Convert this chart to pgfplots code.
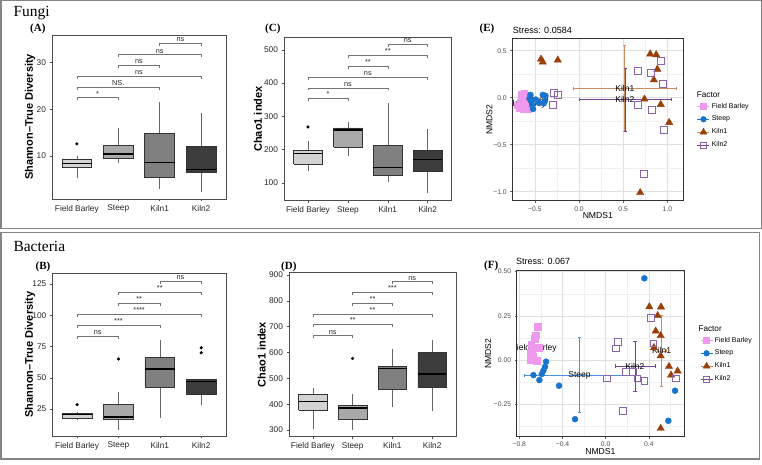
\documentclass[border=0pt]{standalone}
\usepackage{pgfplots}
\pgfplotsset{compat=1.18}
\usepackage{fontspec}
\setmainfont{Liberation Serif}
\setsansfont{Liberation Sans}
\definecolor{fbfill}{HTML}{D3D3D3}
\definecolor{stfill}{HTML}{A9A9A9}
\definecolor{k1fill}{HTML}{808080}
\definecolor{k2fill}{HTML}{3C3C3C}
\definecolor{cFB}{HTML}{EE99EE}
\definecolor{cST}{HTML}{1874CD}
\definecolor{cK1}{HTML}{9A3F0A}
\definecolor{cK2}{HTML}{8C64AA}
\definecolor{eK1}{HTML}{CF8C5E}
\definecolor{eK2}{HTML}{7A4192}
\definecolor{eST}{HTML}{4A94DE}
\definecolor{frm}{HTML}{858585}
\newcommand\tkf{\sffamily\fontsize{8.3}{9}\selectfont}
\newcommand\sig{\sffamily\fontsize{7.3}{8}\selectfont}
\pgfplotsset{
 bxax/.style={scale only axis, xmin=0.4, xmax=4.6, xtick={1,2,3,4},
   xticklabels={Field Barley,Steep,Kiln1,Kiln2},
   tick align=outside, xtick pos=bottom, ytick pos=left,
   major tick length=2.5pt, tick style={black!70,line width=0.5pt},
   axis line style={black!70,line width=0.9pt},
   ticklabel style={font=\tkf, text=black!85},
   /pgf/number format/assume math mode=true,
   ylabel style={font=\sffamily\bfseries\fontsize{11}{12}\selectfont, anchor=center},
   clip=false},
 nm/.style={scale only axis,
   grid=both, major grid style={black!12, line width=0.5pt}, minor grid style={black!6, line width=0.35pt},
   tick align=outside, xtick pos=bottom, ytick pos=left, major tick length=2pt, minor tick length=0pt,
   tick style={black!60, line width=0.5pt},
   axis line style={black!80, line width=1pt},
   ticklabel style={font=\sffamily\fontsize{6.8}{7}\selectfont, text=black!70},
   label style={font=\sffamily\fontsize{8.6}{9}\selectfont},
   xlabel=NMDS1, ylabel=NMDS2,
   xlabel style={at={(axis description cs:0.5,-0.09)}, anchor=center},
   legend style={draw=none, fill=none, anchor=north west, font=\sffamily\fontsize{7}{8}\selectfont, row sep=2.4pt, inner sep=0pt, cells={anchor=west}},
   legend image code/.code={\draw[#1, mark repeat=2, mark phase=2] plot coordinates {(0pt,0pt) (6pt,0pt) (12pt,0pt)};},
 },
}
% box: pos, left, right, lower whisker, q1, median, q3, upper whisker, fill
\newcommand\bx[9]{%
\addplot[black!60, line width=0.6pt] coordinates {(#1,#4) (#1,#5)};
\addplot[black!60, line width=0.6pt] coordinates {(#1,#7) (#1,#8)};
\addplot[draw=black!80, fill=#9, line width=0.6pt] coordinates {(#2,#5) (#3,#5) (#3,#7) (#2,#7) (#2,#5)};
\addplot[black, line width=1.3pt] coordinates {(#2,#6) (#3,#6)};
}
% error bars: color, cx, cy, xleft, xright, ybottom, ytop
\newcommand\eb[7]{%
\addplot[forget plot, #1, line width=0.7pt] coordinates {(#4,#3) (#5,#3)};
\addplot[forget plot, #1, line width=0.7pt] coordinates {(#2,#6) (#2,#7)};
\draw[#1, line width=0.7pt] (axis cs:#4,#3) ++(0pt,-1.6pt) -- ++(0pt,3.2pt);
\draw[#1, line width=0.7pt] (axis cs:#5,#3) ++(0pt,-1.6pt) -- ++(0pt,3.2pt);
\draw[#1, line width=0.7pt] (axis cs:#2,#6) ++(-1.6pt,0pt) -- ++(3.2pt,0pt);
\draw[#1, line width=0.7pt] (axis cs:#2,#7) ++(-1.6pt,0pt) -- ++(3.2pt,0pt);
}
\newcommand\br[4]{\draw[black!55, line width=0.5pt] (axis cs:#1,#3) ++(0pt,-2.7pt) -- ++(0pt,2.7pt) -- node[font=\sig, text=black!85, anchor=base, yshift=1.6pt, inner sep=0pt]{#4} (axis cs:#2,#3) -- ++(0pt,-2.7pt);}
\pgfplotsset{outl/.style={only marks, mark=*, mark size=1.4pt, mark options={draw=black, fill=black}}}
\newcommand\cl{\sffamily\fontsize{8.5}{9}\selectfont}
\begin{document}
\begin{tikzpicture}
\draw[frm, line width=1.5pt] (0.75pt,464.25pt) rectangle (761.25pt,236.5pt);
\draw[frm, line width=1.5pt] (0.75pt,232.5pt) rectangle (759.5pt,6pt);
\node[anchor=base west, font=\fontsize{15.5}{16}\selectfont, inner sep=0pt] at (13.3pt,448.3pt) {Fungi};
\node[anchor=base west, font=\fontsize{15.5}{16}\selectfont, inner sep=0pt] at (13.3pt,213.3pt) {Bacteria};
\node[anchor=base west, font=\bfseries\fontsize{11}{12}\selectfont, inner sep=0pt] at (30pt,433.3pt) {(A)};
\node[anchor=base west, font=\bfseries\fontsize{11}{12}\selectfont, inner sep=0pt] at (265pt,433.3pt) {(C)};
\node[anchor=base west, font=\bfseries\fontsize{11}{12}\selectfont, inner sep=0pt] at (479.5pt,433.3pt) {(E)};
\node[anchor=base west, font=\bfseries\fontsize{11}{12}\selectfont, inner sep=0pt] at (35.5pt,195.7pt) {(B)};
\node[anchor=base west, font=\bfseries\fontsize{11}{12}\selectfont, inner sep=0pt] at (281pt,195.7pt) {(D)};
\node[anchor=base west, font=\bfseries\fontsize{11}{12}\selectfont, inner sep=0pt] at (484pt,196.7pt) {(F)};
\node[anchor=base west, font=\sffamily\fontsize{9}{10}\selectfont, inner sep=0pt] at (512.7pt,431.7pt) {Stress: 0.0584};
\node[anchor=base west, font=\sffamily\fontsize{9}{10}\selectfont, inner sep=0pt] at (516pt,200pt) {Stress: 0.067};
\node[anchor=west, font=\sffamily\fontsize{8.2}{9}\selectfont, inner sep=0pt] at (696.7pt,370.7pt) {Factor};
\node[anchor=west, font=\sffamily\fontsize{8.2}{9}\selectfont, inner sep=0pt] at (698.3pt,136.7pt) {Factor};

% ---------- (A)
\begin{axis}[bxax, at={(52pt,266pt)}, anchor=south west, width=174pt, height=164pt,
  ymin=0.8, ymax=35.9, ytick={10,20,30}, ylabel={Shannon\textendash True Diversity},
  ylabel style={at={(axis description cs:-0.126,0.5)}}]
\bx{1}{0.64}{1.36}{5.4}{7.6}{8.4}{9.4}{10.1}{fbfill}
\bx{2}{1.64}{2.36}{8.4}{9.5}{10.4}{12.3}{16.0}{stfill}
\bx{3}{2.64}{3.36}{3.0}{5.4}{8.6}{14.8}{21.6}{k1fill}
\bx{4}{3.64}{4.36}{2.3}{6.6}{7.15}{12.1}{19.25}{k2fill}
\addplot[outl] coordinates {(1,12.6)};
\br{1}{2}{22.5}{*}
\br{1}{3}{24.8}{NS.}
\br{1}{4}{27.1}{ns}
\br{2}{3}{29.4}{ns}
\br{2}{4}{31.7}{ns}
\br{3}{4}{34.2}{ns}
\end{axis}

% ---------- (C)
\begin{axis}[bxax, at={(284pt,264.3pt)}, anchor=south west, width=167.7pt, height=163.4pt,
  ymin=46, ymax=538, ytick={100,200,300,400,500}, ylabel={Chao1 index},
  ylabel style={at={(axis description cs:-0.155,0.5)}}]
\bx{1}{0.64}{1.36}{135}{157}{188}{197}{225}{fbfill}
\bx{2}{1.64}{2.36}{181}{207}{259}{265}{282}{stfill}
\bx{3}{2.64}{3.36}{103}{122}{145}{212}{339}{k1fill}
\bx{4}{3.64}{4.36}{68}{134}{170}{197}{263}{k2fill}
\addplot[outl] coordinates {(1,268)};
\br{1}{2}{354}{*}
\br{1}{3}{386}{ns}
\br{1}{4}{418}{ns}
\br{2}{3}{450}{**}
\br{2}{4}{483}{**}
\br{3}{4}{517}{ns}
\end{axis}

% ---------- (B)
\begin{axis}[bxax, at={(52.3pt,29pt)}, anchor=south west, width=173.7pt, height=162.7pt,
  ymin=3.4, ymax=133.6, ytick={25,50,75,100,125}, ylabel={Shannon\textendash True Diversity},
  ylabel style={at={(axis description cs:-0.128,0.5)}}]
\bx{1}{0.64}{1.36}{16.5}{17.5}{20.5}{21.5}{23}{fbfill}
\bx{2}{1.64}{2.36}{8.2}{16.5}{18.5}{28.5}{38.5}{stfill}
\bx{3}{2.64}{3.36}{18}{42.5}{57}{66.5}{80}{k1fill}
\bx{4}{3.64}{4.36}{28}{37}{47}{48.5}{48.5}{k2fill}
\addplot[outl] coordinates {(1,28.5) (2,65) (4,70) (4,74)};
\br{1}{2}{83.4}{ns}
\br{1}{3}{92.2}{***}
\br{1}{4}{100.7}{****}
\br{2}{3}{109.8}{**}
\br{2}{4}{118.6}{**}
\br{3}{4}{127.1}{ns}
\end{axis}

% ---------- (D)
\begin{axis}[bxax, at={(289pt,28.3pt)}, anchor=south west, width=167pt, height=164pt,
  ymin=274, ymax=909, ytick={300,400,500,600,700,800,900}, ylabel={Chao1 index},
  ylabel style={at={(axis description cs:-0.163,0.5)}}]
\bx{1}{0.64}{1.36}{303}{377}{410}{438}{461}{fbfill}
\bx{2}{1.64}{2.36}{300}{343}{385}{394}{438}{stfill}
\bx{3}{2.64}{3.36}{390}{459}{539}{545}{612}{k1fill}
\bx{4}{3.64}{4.36}{373}{465}{517}{600}{648}{k2fill}
\addplot[outl] coordinates {(2,577)};
\br{1}{2}{665}{ns}
\br{1}{3}{709}{**}
\br{1}{4}{748}{**}
\br{2}{3}{792}{**}
\br{2}{4}{833}{***}
\br{3}{4}{874}{ns}
\end{axis}

% ---------- (E)
\begin{axis}[nm, at={(512.3pt,264pt)}, anchor=south west, width=171pt, height=162.7pt,
  xmin=-0.755, xmax=1.18, ymin=-1.099, ymax=0.632,
  xtick={-0.5,0,0.5,1}, xticklabels={\textminus0.5,0.0,0.5,1.0},
  ytick={-1,-0.5,0,0.5}, yticklabels={\textminus1.0,\textminus0.5,0.0,0.5},
  minor xtick={-0.25,0.25,0.75}, minor ytick={-0.75,-0.25,0.25},
  ylabel style={at={(axis description cs:-0.134,0.5)}, anchor=center},
  legend style={at={(1.08,0.615)}}]
\addlegendimage{cFB, line width=0.6pt, mark=square*, mark size=3pt, mark options={draw=cFB, fill=cFB}}
\addlegendentry{Field Barley}
\addlegendimage{cST, line width=0.6pt, mark=*, mark size=2.8pt, mark options={draw=cST, fill=cST}}
\addlegendentry{Steep}
\addlegendimage{eK1, line width=0.6pt, mark=triangle*, mark size=3.8pt, mark options={draw=cK1, fill=cK1}}
\addlegendentry{Kiln1}
\addlegendimage{eK2, line width=0.6pt, mark=square, mark size=3.2pt, mark options={draw=cK2, line width=0.7pt}}
\addlegendentry{Kiln2}
\eb{eK1}{0.518}{0.099}{-0.064}{1.10}{-0.356}{0.554}
\eb{eK2}{0.522}{-0.020}{0.0}{1.044}{-0.353}{0.313}
\begin{scope}
\clip (rel axis cs:0,0) rectangle (rel axis cs:1,1);
\node[font=\cl] at (axis cs:-0.63,-0.075) {Field Barley};
\node[font=\cl] at (axis cs:-0.47,-0.03) {Steep};
\node[font=\cl] at (axis cs:0.518,0.099) {Kiln1};
\node[font=\cl] at (axis cs:0.518,-0.020) {Kiln2};
\end{scope}
\addplot[forget plot, only marks, mark=square*, mark size=3.2pt, cFB, mark options={draw=cFB, fill=cFB}] coordinates {
(-0.62,0.05) (-0.60,0.02) (-0.64,-0.01) (-0.66,-0.05) (-0.70,-0.08) (-0.68,-0.11)
(-0.63,-0.12) (-0.58,-0.12) (-0.61,-0.07) (-0.56,-0.04) (-0.65,0.03) (-0.59,-0.09)};
\addplot[forget plot, only marks, mark=*, mark size=3pt, cST, mark options={draw=cST, fill=cST}] coordinates {
(-0.55,0.03) (-0.56,-0.01) (-0.54,-0.04) (-0.53,-0.08) (-0.52,-0.12) (-0.41,0.03)
(-0.38,0.02) (-0.39,-0.04) (-0.40,-0.06) (-0.46,-0.05) (-0.49,-0.02)};
\addplot[forget plot, only marks, mark=triangle*, mark size=4.2pt, cK1, mark options={draw=cK1, fill=cK1}] coordinates {
(-0.43,0.41) (-0.41,0.38) (-0.24,0.40) (0.805,0.465) (0.873,0.457) (0.886,0.303)
(0.847,0.19) (0.74,-0.015) (0.925,-0.072) (1.02,-0.264) (0.692,-1.01)};
\addplot[forget plot, only marks, mark=square, mark size=3.5pt, cK2, mark options={draw=cK2, line width=0.8pt}] coordinates {
(0.928,0.394) (0.661,0.287) (0.811,0.266) (0.953,0.152) (0.666,-0.081) (0.822,-0.13)
(0.955,-0.344) (0.729,-0.809) (-0.286,0.047) (-0.234,0.026) (-0.294,-0.076)};
\end{axis}

% ---------- (F)
\begin{axis}[nm, at={(516.7pt,28.3pt)}, anchor=south west, width=167.3pt, height=166pt,
  xmin=-0.824, xmax=0.725, ymin=-0.433, ymax=0.505,
  xtick={-0.8,-0.4,0,0.4}, xticklabels={\textminus0.8,\textminus0.4,0.0,0.4},
  ytick={-0.25,0,0.25,0.5}, yticklabels={\textminus0.25,0.00,0.25,0.50},
  minor xtick={-0.6,-0.2,0.2,0.6}, minor ytick={-0.375,-0.125,0.125,0.375},
  ylabel style={at={(axis description cs:-0.17,0.5)}, anchor=center},
  legend style={at={(1.096,0.613)}}]
\addlegendimage{cFB, line width=0.6pt, mark=square*, mark size=3pt, mark options={draw=cFB, fill=cFB}}
\addlegendentry{Field Barley}
\addlegendimage{cST, line width=0.6pt, mark=*, mark size=2.8pt, mark options={draw=cST, fill=cST}}
\addlegendentry{Steep}
\addlegendimage{eK1, line width=0.6pt, mark=triangle*, mark size=3.8pt, mark options={draw=cK1, fill=cK1}}
\addlegendentry{Kiln1}
\addlegendimage{eK2, line width=0.6pt, mark=square, mark size=3.2pt, mark options={draw=cK2, line width=0.7pt}}
\addlegendentry{Kiln2}
\eb{eST}{-0.243}{-0.085}{-0.756}{0.270}{-0.298}{0.128}
\eb{eK1}{0.518}{0.052}{0.478}{0.558}{-0.151}{0.255}
\eb{eK2}{0.271}{-0.034}{0.085}{0.457}{-0.175}{0.107}
\begin{scope}
\clip (rel axis cs:0,0) rectangle (rel axis cs:1,1);
\node[font=\cl] at (axis cs:-0.662,0.066) {Field Barley};
\node[font=\cl] at (axis cs:-0.243,-0.085) {Steep};
\node[font=\cl] at (axis cs:0.518,0.052) {Kiln1};
\node[font=\cl] at (axis cs:0.271,-0.034) {Kiln2};
\end{scope}
\addplot[forget plot, only marks, mark=square*, mark size=3.3pt, cFB, mark options={draw=cFB, fill=cFB}] coordinates {
(-0.63,0.19) (-0.65,0.14) (-0.66,0.12) (-0.69,0.09) (-0.62,0.07) (-0.70,0.04)
(-0.70,0.0) (-0.64,-0.005) (-0.67,0.02) (-0.68,0.06)};
\addplot[forget plot, only marks, mark=*, mark size=3pt, cST, mark options={draw=cST, fill=cST}] coordinates {
(0.358,0.462) (0.642,-0.173) (0.58,-0.343) (-0.284,-0.334) (-0.432,-0.145) (-0.552,-0.009)
(-0.561,-0.038) (-0.577,-0.06) (-0.592,-0.079) (-0.614,-0.113) (-0.669,-0.085)};
\addplot[forget plot, only marks, mark=triangle*, mark size=4.2pt, cK1, mark options={draw=cK1, fill=cK1}] coordinates {
(0.404,0.301) (0.512,0.30) (0.481,0.251) (0.463,0.164) (0.509,0.138) (0.447,0.07)
(0.509,0.024) (0.586,-0.036) (0.666,-0.062) (0.605,-0.085) (0.509,-0.386)};
\addplot[forget plot, only marks, mark=square, mark size=3.3pt, cK2, mark options={draw=cK2, line width=0.8pt}] coordinates {
(0.42,0.239) (0.111,0.104) (0.093,0.066) (0.441,0.094) (0.009,-0.104) (0.185,-0.066)
(0.25,-0.066) (0.293,-0.104) (0.358,-0.117) (0.651,-0.104) (0.157,-0.286)};
\end{axis}
\pgfresetboundingbox
\path[use as bounding box] (0pt,0pt) rectangle (762pt,465pt);
\end{tikzpicture}
\end{document}
